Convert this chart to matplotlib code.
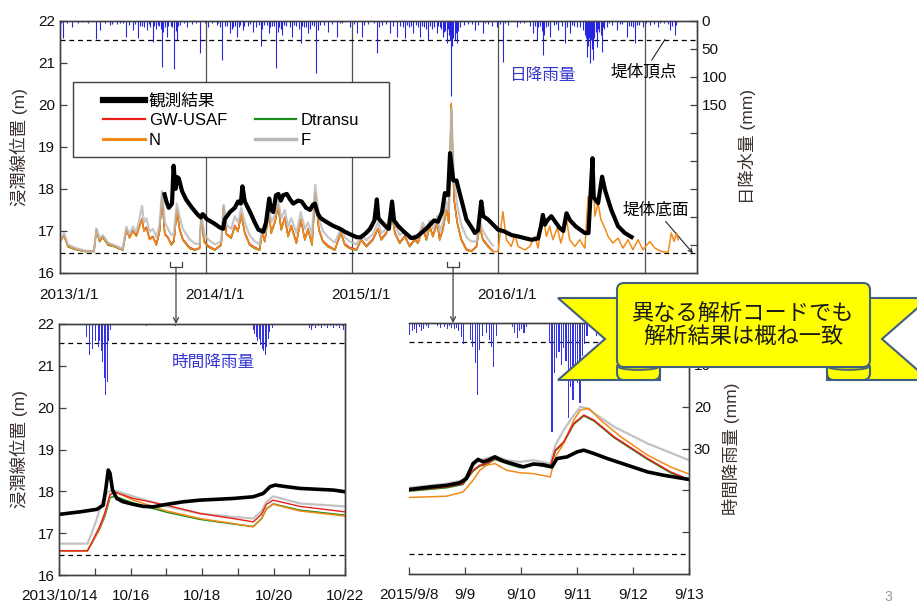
import numpy as np
import matplotlib.pyplot as plt
import matplotlib.transforms as mtransforms
from matplotlib.lines import Line2D
from matplotlib.patches import Rectangle, Polygon, FancyBboxPatch, Ellipse, ConnectionPatch

plt.rcParams['font.family'] = ['Liberation Sans', 'Noto Sans CJK JP']
plt.rcParams['axes.unicode_minus'] = False


# ---- long-term record (days since 2013/1/1) ----
top_tick_days = [0, 365, 730, 1095, 1461]
top_tick_labels = ['2013/1/1', '2014/1/1', '2015/1/1', '2016/1/1', '2017/1/1']

rain_days = [7, 18, 30, 45, 90, 100, 112, 125, 142, 150, 165, 172, 182, 188, 195, 205, 217, 225, 232, 240,
             248, 255, 262, 267, 278, 285, 292, 300, 317, 330, 350, 362, 370, 380, 392, 405, 412, 425, 433, 442,
             450, 457, 470, 482, 490, 502, 510, 522, 530, 540, 548, 555, 565, 580, 590, 602, 610, 620, 630, 640,
             650, 670, 680, 692, 705, 725, 742, 755, 770, 792, 805, 825, 842, 850, 862, 872, 882, 890, 900, 910,
             920, 930, 942, 950, 957, 963, 967, 972, 977, 983, 987, 992, 1000, 1010, 1020, 1037, 1045, 1057, 1070, 1080,
             1092, 1100, 1107, 1120, 1142, 1160, 1175, 1182, 1192, 1200, 1207, 1215, 1225, 1235, 1245, 1255, 1262, 1275, 1285, 1292,
             1300, 1307, 1312, 1317, 1321, 1325, 1329, 1332, 1336, 1342, 1348, 1355, 1360, 1367, 1380, 1392, 1405, 1417, 1428, 1437,
             1447, 1457, 1465, 1475, 1485, 1495, 1510, 1525, 1537,
             3, 55, 70, 130, 158, 200, 210, 222, 236, 244, 252, 258, 270, 281, 289, 296, 310, 340, 395, 400,
             418, 430, 438, 447, 460, 476, 497, 506, 517, 526, 535, 544, 552, 560, 575, 585, 597, 606, 615, 625,
             635, 645, 660, 700, 735, 760, 785, 797, 815, 832, 857, 867, 878, 895, 905, 915, 925, 935, 946, 953,
             960, 970, 975, 980, 990, 996, 1030, 1062, 1112, 1150, 1188, 1196, 1204, 1210, 1220, 1240, 1268, 1280, 1315, 1319,
             1323, 1327, 1334, 1339, 1345, 1352, 1358, 1372, 1400, 1422, 1433, 1442, 1500, 1520, 1530, 1540]
rain_mm = [31, 5, 11, 4, 33, 17, 5, 8, 6, 4, 29, 8, 17, 6, 31, 10, 17, 12, 38, 14,
           9, 82, 12, 29, 10, 86, 34, 8, 11, 6, 57, 4, 11, 5, 8, 70, 10, 22, 12, 29,
           8, 17, 9, 20, 12, 46, 8, 22, 10, 84, 12, 25, 9, 29, 10, 40, 12, 22, 7, 93,
           8, 20, 6, 29, 5, 11, 22, 29, 6, 58, 8, 22, 29, 10, 31, 12, 22, 8, 29, 12,
           34, 15, 22, 12, 29, 18, 40, 25, 135, 30, 34, 40, 12, 8, 6, 17, 8, 22, 6, 9,
           11, 6, 73, 8, 11, 5, 9, 22, 34, 10, 61, 12, 29, 8, 17, 10, 40, 22, 9, 11,
           12, 17, 25, 65, 45, 75, 50, 70, 30, 47, 20, 55, 15, 11, 8, 17, 6, 29, 9, 40,
           7, 11, 5, 8, 6, 11, 5, 17, 25,
           4, 3, 5, 6, 5, 9, 12, 6, 10, 7, 15, 20, 9, 12, 18, 10, 5, 4, 5, 12,
           9, 14, 10, 12, 9, 6, 8, 15, 7, 12, 9, 20, 14, 8, 12, 8, 14, 9, 11, 15,
           10, 16, 7, 5, 6, 8, 5, 12, 6, 9, 12, 8, 10, 12, 9, 14, 10, 12, 9, 15,
           20, 15, 35, 45, 22, 18, 6, 5, 5, 5, 9, 12, 18, 25, 9, 6, 12, 8, 30, 40,
           30, 35, 25, 20, 15, 25, 12, 5, 6, 9, 12, 8, 4, 6, 9, 7]

obs_days = [260, 266, 272, 280, 284, 289, 293, 297, 305, 315, 330, 345, 352, 357, 367, 385, 400, 408, 412, 425,
            437, 445, 452, 456, 462, 475, 488, 496, 508, 515, 523, 528, 533, 540, 546, 552, 558, 567, 575, 583,
            595, 604, 615, 625, 632, 637, 645, 652, 665, 683, 700, 712, 725, 742, 752, 765, 775, 786, 792, 796,
            805, 815, 822, 830, 835, 845, 860, 878, 890, 903, 915, 925, 935, 945, 955, 962, 970, 975, 983, 991,
            999, 1016, 1029, 1037, 1045, 1053, 1058, 1070, 1095, 1110, 1129, 1145, 1178, 1195, 1202, 1207, 1212, 1218, 1228, 1249,
            1258, 1266, 1275, 1290, 1312, 1321, 1331, 1334, 1345, 1355, 1363, 1378, 1395, 1412, 1433]
obs_level = [17.92, 17.70, 17.55, 17.65, 18.55, 18.00, 18.28, 18.25, 17.95, 17.75, 17.55, 17.38, 17.32, 17.40, 17.28, 17.18, 17.08, 17.05, 17.28, 17.45,
             17.55, 17.70, 17.65, 18.06, 17.70, 17.45, 17.18, 17.03, 16.98, 17.20, 17.77, 17.50, 17.45, 17.85, 17.88, 17.72, 17.85, 17.88, 17.75, 17.65,
             17.72, 17.70, 17.55, 17.50, 17.62, 17.65, 17.40, 17.30, 17.22, 17.12, 17.05, 16.98, 16.92, 16.85, 16.85, 16.95, 17.05, 17.25, 17.75, 17.30,
             17.20, 17.10, 17.05, 17.70, 17.25, 17.12, 16.98, 16.83, 16.85, 16.95, 17.05, 17.15, 17.25, 17.22, 17.45, 17.90, 17.85, 18.85, 18.20, 18.20,
             17.90, 17.27, 17.08, 16.95, 17.02, 17.70, 17.35, 17.27, 17.03, 16.99, 16.90, 16.87, 16.79, 16.82, 17.10, 17.38, 17.15, 17.25, 17.35, 17.07,
             17.00, 17.42, 17.25, 17.10, 16.95, 16.95, 18.73, 17.80, 17.66, 18.29, 17.95, 17.50, 17.11, 16.95, 16.83]

sim_days = [0, 10, 20, 37, 62, 85, 91, 99, 107, 120, 137, 157, 166, 174, 182, 191, 199, 205, 210, 216,
            224, 232, 241, 249, 255, 262, 270, 278, 285, 292, 299, 307, 324, 337, 349, 353, 360, 370, 387, 403,
            409, 416, 428, 437, 445, 453, 462, 474, 487, 499, 505, 512, 522, 528, 538, 545, 553, 562, 570, 578,
            591, 602, 612, 620, 630, 638, 647, 657, 670, 687, 702, 712, 724, 741, 753, 766, 782, 795, 803, 816,
            828, 837, 849, 862, 874, 887, 895, 907, 916, 924, 932, 943, 949, 957, 966, 972, 978, 985, 993, 1003,
            1016, 1028, 1041, 1049, 1057, 1070, 1082,
            1095, 1107, 1116, 1128, 1137, 1145, 1162, 1174, 1187, 1195, 1207, 1216, 1224, 1232, 1243, 1252, 1266, 1274, 1287, 1299,
            1312, 1320, 1326, 1331, 1337, 1345, 1352, 1360, 1370, 1382, 1395, 1407, 1420, 1432, 1445, 1457, 1474, 1487, 1503, 1520,
            1528, 1535, 1541, 1545]
sim_n = [16.75, 16.89, 16.63, 16.57, 16.51, 16.51, 17.03, 16.75, 16.85, 16.67, 16.63, 16.55, 17.03, 16.83, 16.99, 16.87, 17.11, 17.27, 16.99, 17.07,
         16.79, 16.85, 16.67, 16.99, 17.82, 16.91, 16.83, 16.67, 16.75, 17.50, 17.03, 16.79, 16.59, 16.55, 16.59, 17.39, 16.75, 16.63, 16.55, 16.67,
         17.58, 16.91, 16.83, 17.11, 16.99, 17.39, 16.95, 16.67, 16.59, 16.55, 16.95, 16.75, 17.46, 16.95, 17.23, 17.62, 17.03, 17.31, 16.87, 17.11,
         16.71, 17.27, 16.79, 17.03, 16.67, 17.90, 17.03, 16.75, 16.63, 16.55, 16.95, 16.67, 16.59, 16.55, 16.79, 16.63, 16.79, 17.05, 16.79, 16.95,
         17.50, 16.95, 16.71, 16.87, 16.63, 16.79, 16.71, 17.07, 16.79, 17.11, 16.87, 17.19, 16.79, 17.03, 17.50, 17.19, 20.04, 17.74, 17.19, 16.79,
         16.55, 16.51, 16.63, 17.11, 16.79, 16.63, 16.51,
         16.51, 17.46, 16.79, 16.63, 16.91, 16.63, 16.55, 16.63, 16.87, 16.59, 17.38, 16.87, 17.11, 16.79, 17.07, 16.71, 17.27, 16.79, 16.63, 16.79,
         16.59, 17.82, 17.50, 18.69, 17.35, 17.66, 17.27, 17.11, 16.87, 16.71, 16.83, 16.59, 16.79, 16.55, 16.79, 16.55, 16.75, 16.59, 16.51, 16.49,
         16.95, 16.75, 16.95, 16.79]
sim_f = [16.78, 16.95, 16.68, 16.60, 16.53, 16.52, 17.06, 16.82, 16.90, 16.72, 16.66, 16.57, 17.10, 16.92, 17.10, 16.98, 17.30, 17.60, 17.20, 17.30,
         16.98, 17.05, 16.85, 17.15, 17.95, 17.20, 17.05, 16.90, 16.95, 17.65, 17.35, 17.05, 16.80, 16.70, 16.68, 17.42, 16.95, 16.80, 16.68, 16.75,
         17.62, 17.15, 17.05, 17.35, 17.20, 17.55, 17.20, 16.90, 16.75, 16.68, 17.05, 16.95, 17.60, 17.20, 17.40, 17.75, 17.30, 17.50, 17.10, 17.30,
         16.95, 17.45, 17.05, 17.20, 16.90, 18.10, 17.30, 17.00, 16.85, 16.72, 17.05, 16.85, 16.75, 16.68, 16.90, 16.78, 16.92, 17.20, 16.95, 17.05,
         17.60, 17.15, 16.90, 17.00, 16.80, 16.90, 16.85, 17.20, 16.95, 17.25, 17.05, 17.35, 17.00, 17.20, 17.70, 17.45, 19.90, 18.20, 17.60, 17.15,
         16.85, 16.75, 16.75, 17.25, 17.00, 16.80, 16.65]
sim_gw = [16.76, 16.90, 16.64, 16.58, 16.52, 16.52, 17.04, 16.77, 16.87, 16.69, 16.64, 16.56, 17.04, 16.85, 17.01, 16.89, 17.13, 17.29, 17.01, 17.09,
          16.81, 16.87, 16.69, 17.01, 17.83, 16.93, 16.85, 16.69, 16.77, 17.52, 17.05, 16.81, 16.61, 16.56, 16.60, 17.40, 16.77, 16.65, 16.56, 16.68,
          17.59, 16.93, 16.85, 17.13, 17.01, 17.40, 16.97, 16.69, 16.61, 16.56, 16.96, 16.77, 17.47, 16.97, 17.25, 17.63, 17.05, 17.33, 16.89, 17.13,
          16.73, 17.28, 16.81, 17.05, 16.69, 17.91, 17.05, 16.77, 16.65, 16.56, 16.96, 16.69, 16.61, 16.56, 16.80, 16.65, 16.81, 17.06, 16.81, 16.97,
          17.51, 16.97, 16.73, 16.89, 16.65, 16.81, 16.73, 17.09, 16.81, 17.13, 16.89, 17.21, 16.81, 17.05, 17.51, 17.21, 20.02, 17.76, 17.21, 16.81,
          16.57, 16.52, 16.64, 17.12, 16.81, 16.65, 16.52]
sim_dt = [16.74, 16.88, 16.62, 16.56, 16.51, 16.51, 17.02, 16.74, 16.84, 16.66, 16.62, 16.54, 17.02, 16.84, 17.00, 16.88, 17.12, 17.26, 17.00, 17.08,
          16.80, 16.86, 16.66, 16.98, 17.80, 16.92, 16.84, 16.66, 16.74, 17.48, 17.04, 16.78, 16.58, 16.54, 16.58, 17.38, 16.74, 16.62, 16.54, 16.66,
          17.56, 16.92, 16.82, 17.10, 16.98, 17.38, 16.94, 16.66, 16.58, 16.54, 16.94, 16.74, 17.44, 16.94, 17.22, 17.60, 17.02, 17.30, 16.86, 17.10,
          16.70, 17.26, 16.78, 17.02, 16.66, 17.88, 17.02, 16.74, 16.62, 16.54, 16.94, 16.66, 16.58, 16.54, 16.78, 16.62, 16.78, 17.04, 16.78, 16.94,
          17.48, 16.94, 16.70, 16.86, 16.62, 16.78, 16.70, 17.06, 16.78, 17.10, 16.86, 17.18, 16.78, 17.02, 17.48, 17.18, 19.98, 17.72, 17.18, 16.78,
          16.54, 16.51, 16.62, 17.10, 16.78, 16.62, 16.51]

crest_level = 21.55
base_level = 16.47

# ---- event 1: 2013/10/14 - 10/22 (days since 10/14) ----
ev1_tick_labels = ['2013/10/14', '', '10/16', '', '10/18', '', '10/20', '', '10/22']
ev1_start_day = 286
ev1_rain_hours = [18, 19, 20, 21, 22, 23, 24, 25, 26, 27, 28, 29, 30, 31, 32, 33, 34, 58, 78,
                  130, 131, 132, 133, 134, 135, 136, 137, 138, 139, 140, 141, 142, 143, 144,
                  168, 169, 170, 172, 174, 176, 178, 180, 182, 184, 186, 188, 190, 191]
ev1_rain_mm = [3.0, 4.5, 7.4, 5.5, 6.0, 5.0, 4.0, 4.5, 5.5, 4.0, 6.5, 9.0, 13.0, 17.0, 13.8, 4.0, 1.5, 0.5, 0.5,
               1.5, 2.5, 3.0, 4.0, 3.5, 5.0, 6.0, 6.5, 7.5, 5.5, 3.5, 2.0, 1.5, 1.0, 1.0,
               1.0, 1.5, 0.5, 1.0, 0.5, 1.0, 0.5, 1.0, 0.5, 1.0, 0.5, 1.0, 0.5, 1.5]
ev1_obs_t = [0.0, 0.58, 1.05, 1.23, 1.31, 1.37, 1.42, 1.49, 1.61, 1.79, 2.07, 2.35, 2.63, 3.01, 3.47, 3.94, 4.41,
             4.87, 5.43, 5.71, 5.90, 6.04, 6.37, 6.74, 7.21, 7.68, 8.0]
ev1_obs = [17.45, 17.51, 17.57, 17.67, 18.11, 18.51, 18.43, 18.03, 17.83, 17.75, 17.69, 17.64, 17.63, 17.69, 17.75, 17.79, 17.81,
           17.83, 17.87, 17.95, 18.11, 18.15, 18.11, 18.07, 18.05, 18.03, 17.99]
ev1_sim_t = [0, 0.79, 0.95, 1.14, 1.28, 1.42, 1.56, 2.07, 3.01, 3.94, 4.87, 5.43, 5.66, 5.80, 5.99, 6.74, 8.0]
ev1_n = [16.58, 16.58, 16.83, 17.15, 17.47, 17.91, 17.99, 17.79, 17.53, 17.35, 17.23, 17.15, 17.35, 17.59, 17.69, 17.53, 17.41]
ev1_gw = [16.58, 16.58, 16.85, 17.18, 17.50, 17.93, 17.98, 17.83, 17.67, 17.47, 17.35, 17.27, 17.45, 17.69, 17.79, 17.64, 17.51]
ev1_dt = [16.58, 16.58, 16.82, 17.12, 17.42, 17.85, 17.88, 17.72, 17.50, 17.33, 17.22, 17.16, 17.34, 17.58, 17.70, 17.55, 17.43]
ev1_f_t = [0, 0.79, 0.93, 1.07, 1.20, 1.35, 1.50, 2.07, 3.01, 3.94, 4.87, 5.43, 5.66, 5.80, 5.99, 6.74, 8.0]
ev1_f = [16.75, 16.75, 17.05, 17.40, 17.75, 17.98, 18.03, 17.88, 17.64, 17.47, 17.39, 17.35, 17.52, 17.75, 17.88, 17.71, 17.64]

# ---- event 2: 2015/9/8 - 9/13 (days since 9/8) ----
ev2_tick_labels = ['2015/9/8', '9/9', '9/10', '9/11', '9/12', '9/13']
ev2_start_day = 980
ev2_rain_hours = [0, 1, 2, 3, 4, 5, 6, 7, 8,
                  12, 13, 15, 16, 17, 18, 19, 20, 21, 22, 23,
                  26, 27, 28, 29, 30, 31, 33, 34, 35, 36, 37,
                  44, 45, 46, 47, 48, 49, 50,
                  60, 61, 62, 63, 64, 65, 66, 67, 68, 69, 70, 71, 72, 73, 74, 75, 76, 80, 84, 90]
ev2_rain_mm = [2.9, 2.0, 1.5, 2.5, 1.0, 2.0, 1.5, 0.8, 1.2,
               0.8, 1.2, 1.0, 1.5, 0.8, 1.2, 1.5, 1.2, 2.0, 3.3, 4.9,
               4.0, 5.7, 9.6, 17.2, 6.5, 3.0, 2.5, 4.0, 5.7, 10.5, 3.0,
               1.0, 2.5, 3.5, 2.0, 1.5, 2.5, 1.0,
               4.8, 26.0, 12.0, 8.3, 7.0, 10.0, 6.0, 9.0, 22.8, 15.2, 18.4, 12.0, 14.4, 19.2, 8.0, 5.0, 3.0, 3.0, 2.0, 1.0]
ev2_obs_t = [0, 0.37, 0.67, 0.90, 1.02, 1.14, 1.23, 1.32, 1.41, 1.53, 1.68, 1.86, 2.04, 2.22, 2.40, 2.55, 2.64,
             2.82, 3.0, 3.12, 3.30, 3.54, 3.90, 4.26, 4.55, 5.0]
ev2_obs = [18.02, 18.08, 18.12, 18.18, 18.28, 18.64, 18.74, 18.68, 18.72, 18.80, 18.70, 18.63, 18.56, 18.63, 18.61, 18.56, 18.76,
           18.80, 18.92, 18.96, 18.88, 18.76, 18.60, 18.44, 18.36, 18.26]
ev2_n_t = [0, 0.67, 0.96, 1.14, 1.26, 1.38, 1.53, 1.74, 1.98, 2.22, 2.52, 2.61, 2.76, 2.94, 3.06, 3.21, 3.42, 3.78, 4.26, 4.67, 5.0]
ev2_n = [17.83, 17.86, 17.96, 18.24, 18.48, 18.60, 18.64, 18.48, 18.42, 18.40, 18.32, 18.80, 19.12, 19.68, 19.92, 19.96, 19.68, 19.28, 18.84, 18.56, 18.39]
ev2_gw_t = [0, 0.67, 0.96, 1.14, 1.26, 1.38, 1.53, 1.74, 1.98, 2.22, 2.52, 2.61, 2.76, 2.94, 3.12, 3.30, 3.66, 4.26, 4.67, 5.0]
ev2_gw = [18.00, 18.08, 18.16, 18.48, 18.60, 18.64, 18.76, 18.66, 18.56, 18.64, 18.56, 18.96, 19.16, 19.60, 19.80, 19.68, 19.28, 18.76, 18.44, 18.26]
ev2_dt = [17.98, 18.06, 18.14, 18.46, 18.58, 18.62, 18.74, 18.64, 18.54, 18.62, 18.54, 18.94, 19.14, 19.58, 19.78, 19.66, 19.26, 18.74, 18.42, 18.24]
ev2_f_t = [0, 0.67, 0.96, 1.14, 1.26, 1.53, 1.74, 1.98, 2.22, 2.52, 2.61, 2.76, 2.90, 3.06, 3.18, 3.66, 4.26, 5.0]
ev2_f = [18.06, 18.16, 18.24, 18.60, 18.72, 18.82, 18.72, 18.68, 18.72, 18.64, 19.08, 19.44, 19.72, 20.00, 19.96, 19.52, 19.12, 18.72]


C_OBS = 'black'
C_GW = '#e8201c'
C_DT = '#1a8a1a'
C_N = '#f28a1a'
C_F = '#b8b8b8'
C_RAIN = '#2626e0'
C_SPINE = '#404040'
C_LABEL = '#3a302c'


def style_axes(ax):
    for s in ax.spines.values():
        s.set_color(C_SPINE)
        s.set_linewidth(1.0)
    ax.tick_params(direction='in', length=5, width=0.9, colors=C_SPINE, labelcolor='#111111', labelsize=11)


def draw_levels(ax, span):
    ax.axhline(crest_level, color='k', lw=0.9, ls=(0, (4, 3)), zorder=2)
    ax.axhline(base_level, color='k', lw=0.9, ls=(0, (4, 3)), zorder=2)
    ax.set_xlim(0, span)
    ax.set_ylim(16, 22)


fig = plt.figure(figsize=(9.17, 6.03), dpi=100)
ax1 = fig.add_axes([0.0654, 0.5473, 0.6946, 0.4184])
ax2 = fig.add_axes([0.0647, 0.0464, 0.3115, 0.4163])
ax3 = fig.add_axes([0.4463, 0.0481, 0.3051, 0.4162])

# ---- top: whole record ----
days_f = sim_days[:len(sim_f)]
ax1.plot(days_f, sim_dt, color=C_DT, lw=1.0, zorder=3)
ax1.plot(days_f, sim_gw, color=C_GW, lw=1.0, zorder=3)
ax1.plot(sim_days, sim_n, color=C_N, lw=1.1, zorder=4)
ax1.plot(days_f, sim_f, color=C_F, lw=1.6, alpha=0.8, zorder=5)
ax1.plot(obs_days, obs_level, color=C_OBS, lw=3.0, zorder=6, solid_capstyle='butt')
draw_levels(ax1, 1592)
for d in top_tick_days[1:]:
    ax1.axvline(d, color='#505050', lw=0.9, zorder=1)
style_axes(ax1)
ax1.set_yticks(range(16, 23))
ax1.set_xticks(top_tick_days, top_tick_labels)
ax1.tick_params(axis='x', length=0, pad=11)
shift = mtransforms.ScaledTranslation(9 / 100, 0, fig.dpi_scale_trans)
for lab in ax1.get_xticklabels():
    lab.set_transform(lab.get_transform() + shift)
ax1.set_ylabel('浸潤線位置 (m)', fontsize=12.5, color=C_LABEL, labelpad=7)

r1 = ax1.twinx()
r1.vlines(rain_days, 0, rain_mm, color=C_RAIN, lw=0.8)
r1.set_ylim(450, 0)
r1.set_yticks(range(0, 401, 50), ['0', '50', '100', '150', '', '', '', '', ''])
style_axes(r1)
r1.set_ylabel('日降水量 (mm)', fontsize=12.5, color=C_LABEL, labelpad=8)

ax1.text(1205, 20.69, '日降雨量', color='#3535d0', fontsize=12, ha='center', va='center', zorder=7)
ax1.annotate('堤体頂点', xy=(1512, crest_level), xytext=(1460, 20.78), fontsize=12, ha='center', va='center',
             arrowprops=dict(arrowstyle='-', color='#222222', lw=0.8, shrinkA=1, shrinkB=0))
ax1.annotate('堤体底面', xy=(1582, base_level), xytext=(1489, 17.50), fontsize=12, ha='center', va='center',
             arrowprops=dict(arrowstyle='->', color='#222222', lw=0.8, shrinkA=1, shrinkB=0, mutation_scale=7))

# legend box with the observed entry alone on the first row
ax1.add_patch(Rectangle((0.0204, 0.46), 0.496, 0.297, transform=ax1.transAxes,
                        fc='white', ec=C_SPINE, lw=1.0, zorder=8))
handles = [Line2D([], [], color=C_OBS, lw=4.5),
           Line2D([], [], color=C_GW, lw=1.6),
           Line2D([], [], color=C_N, lw=2.2),
           Line2D([], [], color='none'),
           Line2D([], [], color=C_DT, lw=1.6),
           Line2D([], [], color=C_F, lw=2.5)]
labels = ['観測結果', 'GW-USAF', 'N', '', 'Dtransu', 'F']
leg = ax1.legend(handles, labels, ncol=2, mode='expand', loc='upper left',
                 bbox_to_anchor=(0.0675, 0.0, 0.402, 0.713), borderaxespad=0, borderpad=0,
                 frameon=False, fontsize=12, handlelength=2.5, handletextpad=0.25,
                 labelspacing=0.28, columnspacing=0.5)
leg.set_zorder(9)

# zoom window markers
for start, span in [(ev1_start_day, 8), (ev2_start_day, 5)]:
    c = start + span / 2
    ax1.plot([c - 16, c - 16, c + 16, c + 16], [16.27, 16.14, 16.14, 16.27], color='#404040', lw=0.9, zorder=6)

# ---- bottom left: 2013/10 event ----
ax2.plot(ev1_sim_t, ev1_dt, color=C_DT, lw=1.1, zorder=3)
ax2.plot(ev1_f_t, ev1_f, color=C_F, lw=1.6, alpha=0.85, zorder=3)
ax2.plot(ev1_sim_t, ev1_n, color=C_N, lw=1.1, zorder=4)
ax2.plot(ev1_sim_t, ev1_gw, color=C_GW, lw=1.0, zorder=5)
ax2.plot(ev1_obs_t, ev1_obs, color=C_OBS, lw=2.6, zorder=6)
draw_levels(ax2, 8)
style_axes(ax2)
ax2.set_yticks(range(16, 23))
ax2.set_xticks(range(9), ev1_tick_labels)
ax2.tick_params(axis='x', pad=10)
ax2.set_ylabel('浸潤線位置 (m)', fontsize=12.5, color=C_LABEL, labelpad=7)
r2 = ax2.twinx()
r2.bar(np.array(ev1_rain_hours) / 24, ev1_rain_mm, width=0.6 / 24, align='edge', color='#3434e4', lw=0)
r2.set_ylim(60, 0)
r2.set_yticks([])
style_axes(r2)
ax2.text(4.3, 21.07, '時間降雨量', color='#3535d0', fontsize=12, ha='center', va='center')

# ---- bottom right: 2015/9 event ----
ax3.plot(ev2_f_t, ev2_f, color=C_F, lw=1.6, alpha=0.85, zorder=3)
ax3.plot(ev2_gw_t, ev2_dt, color=C_DT, lw=1.1, zorder=3)
ax3.plot(ev2_n_t, ev2_n, color=C_N, lw=1.1, zorder=4)
ax3.plot(ev2_gw_t, ev2_gw, color=C_GW, lw=1.1, zorder=5)
ax3.plot(ev2_obs_t, ev2_obs, color=C_OBS, lw=2.6, zorder=6)
draw_levels(ax3, 5)
style_axes(ax3)
ax3.spines['left'].set_visible(False)
ax3.set_yticks([])
ax3.set_xticks(range(6), ev2_tick_labels)
ax3.tick_params(axis='x', pad=10)
r3 = ax3.twinx()
r3.bar(np.array(ev2_rain_hours) / 24, ev2_rain_mm, width=0.5 / 24, align='edge', color='#3434e4', lw=0)
r3.set_ylim(60, 0)
r3.set_yticks(range(0, 51, 10), ['', '10', '20', '30', '', ''])
style_axes(r3)
r3.spines['left'].set_visible(False)
r3.set_ylabel('時間降雨量 (mm)', fontsize=12.5, color=C_LABEL, labelpad=8)

# arrows from the markers down to the event panels
for start, span, ax_ev in [(ev1_start_day, 8, ax2), (ev2_start_day, 5, ax3)]:
    c = start + span / 2
    tB = mtransforms.blended_transform_factory(ax1.transData, ax_ev.transAxes)
    con = ConnectionPatch(xyA=(c, 16.14), coordsA=ax1.transData, xyB=(c, 1.0), coordsB=tB,
                          arrowstyle='->', color='#404040', lw=0.9, mutation_scale=9)
    fig.add_artist(con)

# ---- ribbon banner ----
ov = fig.add_axes([0, 0, 1, 1], zorder=10)
ov.set_xlim(0, 917)
ov.set_ylim(603, 0)
ov.axis('off')
EDGE = '#41607f'
ov.add_patch(Polygon([(558, 298), (660, 298), (660, 380), (558, 380), (605, 339)],
                     closed=True, fc='#ffff00', ec=EDGE, lw=1.5, zorder=1))
ov.add_patch(Polygon([(929, 298), (827, 298), (827, 380), (929, 380), (882, 339)],
                     closed=True, fc='#ffff00', ec=EDGE, lw=1.5, zorder=1))
for x0 in (617, 827):
    ov.add_patch(FancyBboxPatch((x0, 362), 43, 18, boxstyle='round,pad=0,rounding_size=7',
                                fc='#ffff00', ec=EDGE, lw=1.5, zorder=2))
    ov.add_patch(Ellipse((x0 + 21.5, 366), 43, 8, fc='#c9c900', ec=EDGE, lw=1.2, zorder=3))
ov.add_patch(FancyBboxPatch((617, 283), 253, 84, boxstyle='round,pad=0,rounding_size=7',
                            fc='#ffff00', ec=EDGE, lw=1.5, zorder=4))
ov.text(743.5, 326, '異なる解析コードでも\n解析結果は概ね一致', ha='center', va='center',
        fontsize=16, linespacing=1.15, color='#1a1a1a', zorder=5)

fig.text(888 / 917, 1 - 597 / 603, '3', color='#999999', fontsize=10, ha='center', va='center')

fig.savefig('out.png', dpi=100)
